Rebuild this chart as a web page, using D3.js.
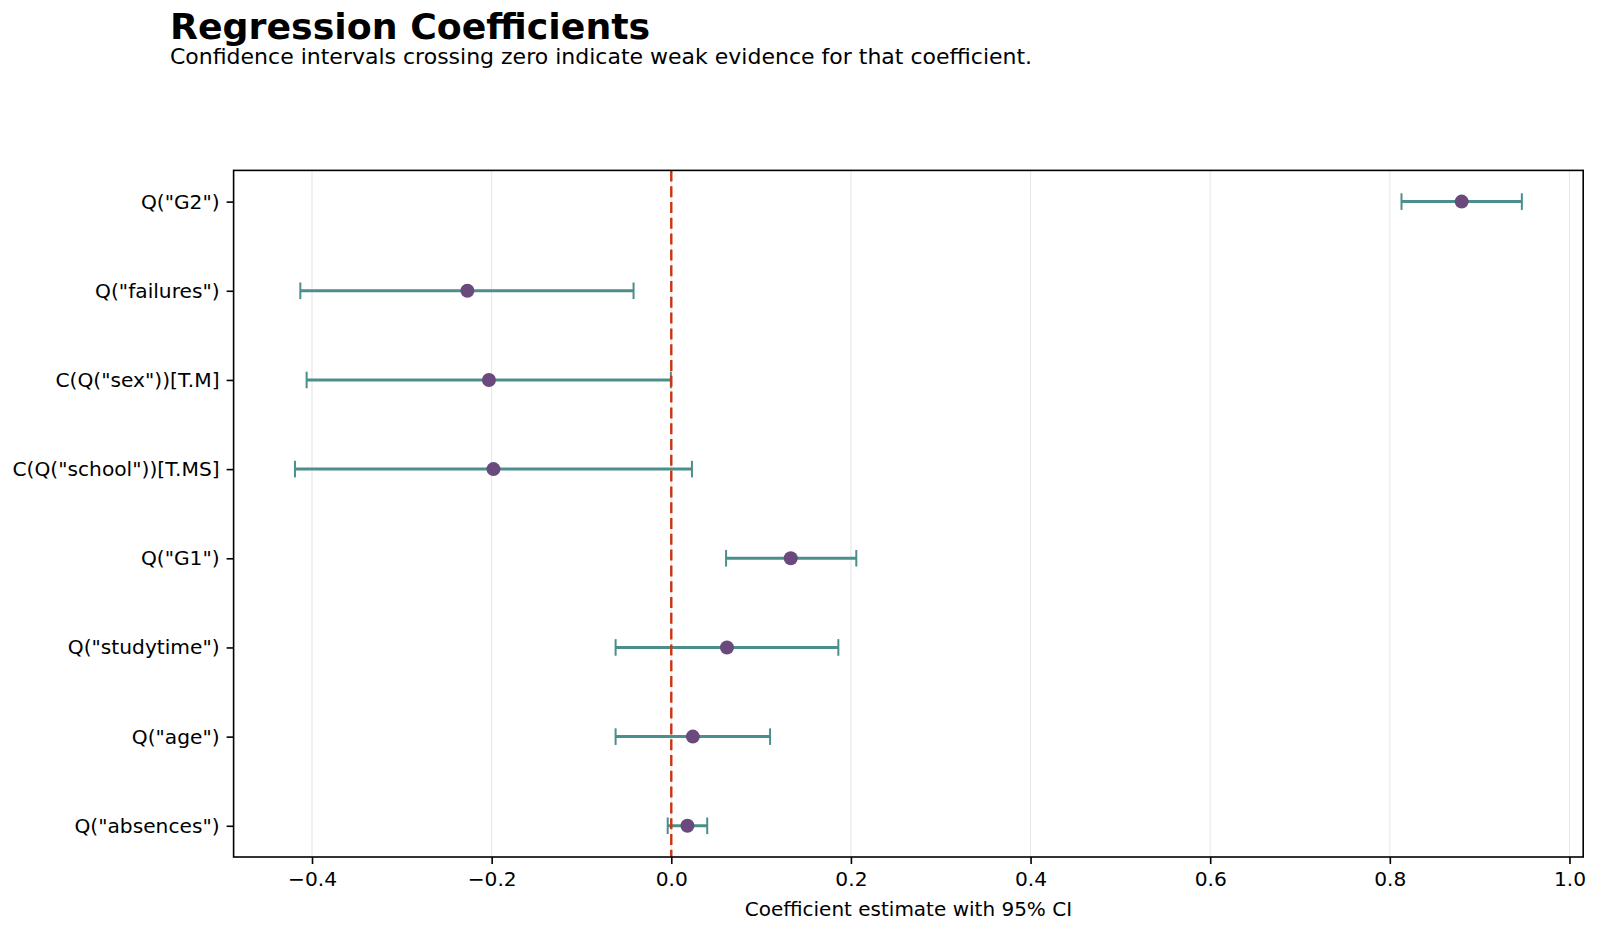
<!DOCTYPE html>
<html>
<head>
<meta charset="utf-8">
<script src="https://cdn.jsdelivr.net/npm/d3@7"></script>
<style>
  body { margin: 0; background: #fff; }
  svg text { font-family: "DejaVu Sans", sans-serif; fill: #000; }
</style>
</head>
<body>
<div id="chart"></div>
<script>
// data (bottom row first)
const terms = ['Q("absences")', 'Q("age")', 'Q("studytime")', 'Q("G1")',
               'C(Q("school"))[T.MS]', 'C(Q("sex"))[T.M]', 'Q("failures")', 'Q("G2")'];
const estimates = [0.018, 0.024, 0.062, 0.133, -0.198, -0.203, -0.227, 0.880];
const ciLow  = [-0.004, -0.062, -0.062, 0.061, -0.419, -0.406, -0.413, 0.813];
const ciHigh = [0.040, 0.110, 0.186, 0.206, 0.023, -0.0005, -0.042, 0.947];
const xTicks = [-0.4, -0.2, 0.0, 0.2, 0.4, 0.6, 0.8, 1.0];

const width = 1600, height = 935;
const margin = {top: 170.4, right: 16.8, bottom: 78, left: 233.6};

const svg = d3.select("#chart").append("svg")
    .attr("width", width)
    .attr("height", height);

// title + subtitle
svg.append("text")
    .attr("x", 170).attr("y", 39)
    .style("font-size", "36.3px")
    .style("font-weight", "bold")
    .text("Regression Coefficients");
svg.append("text")
    .attr("x", 170).attr("y", 64)
    .style("font-size", "22px")
    .text("Confidence intervals crossing zero indicate weak evidence for that coefficient.");

// x limits with 5% padding like matplotlib autoscale
const lo = d3.min(ciLow), hi = d3.max(ciHigh);
const pad = (hi - lo) * 0.05;
const x = d3.scaleLinear()
    .domain([lo - pad, hi + pad])
    .range([margin.left, width - margin.right]);

const y = d3.scalePoint()
    .domain(terms.slice().reverse())
    .range([margin.top, height - margin.bottom])
    .padding(0.35);

const plotTop = margin.top, plotBottom = height - margin.bottom;

// grid
svg.append("g")
    .selectAll("line")
    .data(xTicks)
    .join("line")
    .attr("x1", d => x(d)).attr("x2", d => x(d))
    .attr("y1", plotTop).attr("y2", plotBottom)
    .attr("stroke", "#e8e8e8")
    .attr("stroke-width", 1.2);

// error bars
const rows = terms.map((t, i) => ({term: t, est: estimates[i], lo: ciLow[i], hi: ciHigh[i]}));
const bars = svg.append("g")
    .attr("stroke", "#4a8f8c")
    .attr("stroke-width", 3);
bars.selectAll("line.ci")
    .data(rows)
    .join("line")
    .attr("class", "ci")
    .attr("x1", d => x(d.lo)).attr("x2", d => x(d.hi))
    .attr("y1", d => y(d.term)).attr("y2", d => y(d.term));
bars.selectAll("line.capl")
    .data(rows)
    .join("line")
    .attr("class", "capl")
    .attr("stroke-width", 2)
    .attr("x1", d => x(d.lo)).attr("x2", d => x(d.lo))
    .attr("y1", d => y(d.term) - 8.3).attr("y2", d => y(d.term) + 8.3);
bars.selectAll("line.caph")
    .data(rows)
    .join("line")
    .attr("class", "caph")
    .attr("stroke-width", 2)
    .attr("x1", d => x(d.hi)).attr("x2", d => x(d.hi))
    .attr("y1", d => y(d.term) - 8.3).attr("y2", d => y(d.term) + 8.3);

// zero reference line
svg.append("line")
    .attr("x1", x(0)).attr("x2", x(0))
    .attr("y1", plotTop).attr("y2", plotBottom)
    .attr("stroke", "#cc3311")
    .attr("stroke-width", 2.4)
    .attr("stroke-dasharray", "11,4.8");

// estimates
svg.append("g")
    .selectAll("circle")
    .data(rows)
    .join("circle")
    .attr("cx", d => x(d.est))
    .attr("cy", d => y(d.term))
    .attr("r", 7)
    .attr("fill", "#6a4a7c");

// frame
svg.append("rect")
    .attr("x", margin.left).attr("y", plotTop)
    .attr("width", width - margin.right - margin.left)
    .attr("height", plotBottom - plotTop)
    .attr("fill", "none")
    .attr("stroke", "#000")
    .attr("stroke-width", 1.6);

// axes
const xAxis = svg.append("g")
    .attr("transform", `translate(0,${plotBottom})`)
    .call(d3.axisBottom(x).tickValues(xTicks).tickFormat(d3.format(".1f")).tickSize(7).tickPadding(8));
const yAxis = svg.append("g")
    .attr("transform", `translate(${margin.left},0)`)
    .call(d3.axisLeft(y).tickSize(7).tickPadding(7));

[xAxis, yAxis].forEach(g => {
    g.select(".domain").remove();
    g.selectAll(".tick line").attr("stroke", "#000").attr("stroke-width", 1.6);
    g.selectAll(".tick text")
        .style("font-size", "20.2px")
        .style("font-family", "DejaVu Sans")
        .attr("fill", "#000");
});

svg.append("text")
    .attr("x", (margin.left + width - margin.right) / 2)
    .attr("y", 916)
    .attr("text-anchor", "middle")
    .style("font-size", "20px")
    .text("Coefficient estimate with 95% CI");
</script>
</body>
</html>
